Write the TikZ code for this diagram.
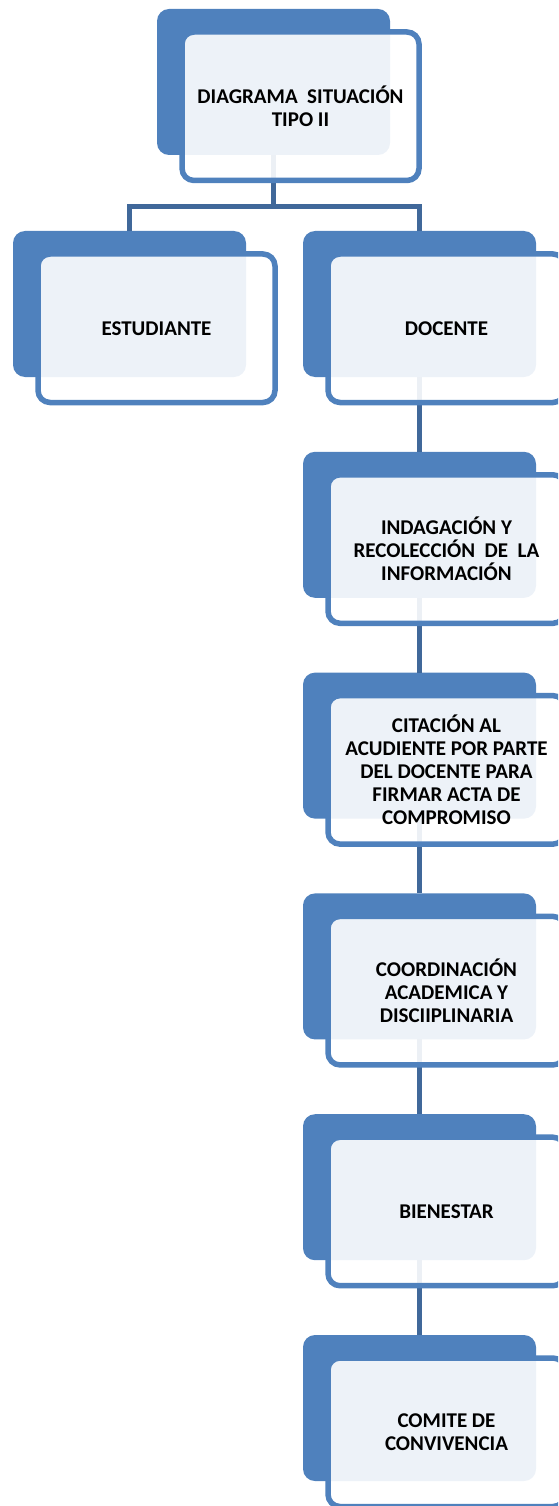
\documentclass[tikz,border=0pt]{standalone}
\usepackage{fontspec}
\setmainfont{Carlito}
\definecolor{accent}{RGB}{79,129,189}
\definecolor{connc}{RGB}{64,104,154}
\tikzset{
  back/.style={rectangle, rounded corners=12pt, fill=accent,
    minimum width=233pt, minimum height=146pt, inner sep=0pt, outer sep=0pt,
    anchor=north west},
  front/.style={rectangle, rounded corners=12pt, draw=accent, line width=5.5pt,
    fill=white, fill opacity=0.9, text opacity=1,
    minimum width=237pt, minimum height=148.5pt, inner sep=0pt, outer sep=0pt,
    anchor=north west, align=center, font=\fontsize{21}{23}\selectfont\bfseries},
  conn/.style={draw=connc, line width=5pt}
}
\begin{document}
\begin{tikzpicture}[x=1pt,y=-1pt]
\path[use as bounding box, clip] (0,0) rectangle (558,1506);
% back shapes
\node[back] (topb) at (157,9) {};
\node[back] (estb) at (13,231) {};
\node[back] (docb) at (303,231) {};
\node[back] (indb) at (303,451.8) {};
\node[back] (citb) at (303,672.6) {};
\node[back] (coob) at (303,893.4) {};
\node[back] (bieb) at (303,1114.2) {};
\node[back] (comb) at (303,1335) {};
% connectors
\coordinate (split) at (273.5,207);
\draw[conn] (topb.south) -- (split) -| (estb.north);
\draw[conn] (split) -| (docb.north);
\draw[conn] (docb.south) -- (indb.north);
\draw[conn] (indb.south) -- (citb.north);
\draw[conn] (citb.south) -- (coob.north);
\draw[conn] (coob.south) -- (bieb.north);
\draw[conn] (bieb.south) -- (comb.north);
% front shapes
\node[front] (topf) at (182,32) {DIAGRAMA\ \ SITUACIÓN\\TIPO II};
\node[front] (estf) at (38,254) {ESTUDIANTE};
\node[front] (docf) at (328,254) {DOCENTE};
\node[front] (indf) at (328,474.8) {INDAGACIÓN Y\\RECOLECCIÓN\ \ DE\ \ LA\\INFORMACIÓN};
\node[front] (citf) at (328,695.6) {CITACIÓN AL\\ACUDIENTE POR PARTE\\DEL DOCENTE PARA\\FIRMAR ACTA DE\\COMPROMISO};
\node[front] (coof) at (328,916.4) {COORDINACIÓN\\ACADEMICA Y\\DISCIIPLINARIA};
\node[front] (bief) at (328,1137.2) {BIENESTAR};
\node[front] (comf) at (328,1358) {COMITE DE\\CONVIVENCIA};
\end{tikzpicture}
\end{document}
